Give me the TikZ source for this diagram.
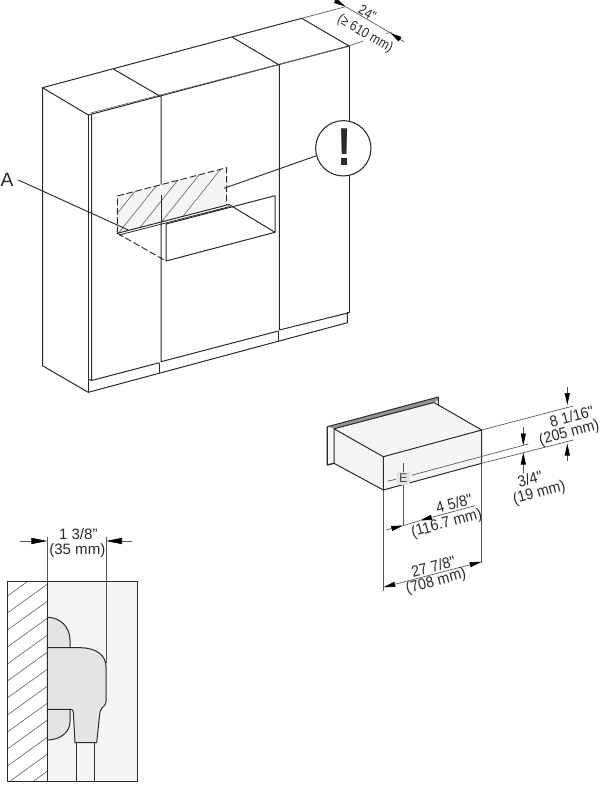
\documentclass[tikz,border=0pt]{standalone}
\usepackage{fontspec}
\setmainfont{Liberation Sans}
\newfontfamily\midf[FakeStretch=0.92]{Liberation Sans}
\newfontfamily\narf[FakeStretch=0.85]{Liberation Sans}
\usetikzlibrary{arrows.meta}
\definecolor{lg}{HTML}{F5F5F5}
\definecolor{mg}{HTML}{E4E4E4}
\definecolor{ln}{HTML}{2A2A2A}
\tikzset{
 px/.style={x=0.75pt,y=-0.75pt},
 edge/.style={draw=ln,line width=0.75pt,line join=round},
 thinl/.style={draw=ln!70,line width=0.5pt},
 hatch/.style={draw=ln!70,line width=0.5pt},
 dashl/.style={draw=ln,line width=0.7pt,dash pattern=on 5pt off 2pt},
 dim/.style={draw=ln!80,line width=0.5pt},
 tipa/.tip={Triangle[length=9pt,width=3.8pt,color=black,fill=black]},
 tipb/.tip={Triangle[length=12pt,width=4.6pt,color=black,fill=black]},
 dimarrow/.style={dim,-tipa},
 bigarrow/.style={dim,-tipb},
 lbl/.style={font=\fontsize{11.3}{12}\selectfont,inner sep=0pt,text=ln},
 mlbl/.style={font=\midf\fontsize{11.7}{12}\selectfont,inner sep=0pt,text=ln,rotate=15},
 tlbl/.style={font=\narf\fontsize{10.6}{12}\selectfont,inner sep=0pt,text=ln,rotate=-30},
}
\begin{document}
\begin{tikzpicture}[px]
\useasboundingbox (0,0) rectangle (600,785);
% cabinet coordinates
\coordinate (bl) at (42.5,87.7); \coordinate (fl) at (88.3,115); \coordinate (br) at (301.7,18.3); \coordinate (fr) at (349,46);
\coordinate (blb) at (42.5,365.7); \coordinate (flb) at (88.3,392.3); \coordinate (frb) at (347.3,322.7); \coordinate (frp) at (347.3,312.7);
\draw[edge] (fl)--(bl)--(br)--(fr)--(fl);
\draw[edge] (bl)--(blb)--(flb)--(frb)--(frp);
\draw[edge] (fl)--(flb);
\draw[edge] (fr)--(349,312.7)--(347.3,312.7);
\draw[thinl] (90.5,113)--(347,46.8);
\draw[edge] (91.7,115)--(91.7,380.5)--(159.3,362.7);
\draw[edge] (88.3,379)--(91.7,380.5);
\draw[edge] (113.3,69)--(161,96.7)--(161,361.7)--(278.3,331);
\draw[edge] (232.3,37.3)--(279.3,65)--(279.3,330)--(349,312.7);
\draw[edge] (159.3,363.3)--(159.3,372.7);
\draw[edge] (278.3,331)--(278.3,340.7);
% hatched panel
\coordinate (ha) at (117.3,196); \coordinate (hb) at (226.7,167.7); \coordinate (hc) at (226.7,205); \coordinate (hd) at (117.3,233.3);
\fill[lg] (ha)--(hb)--(hc)--(hd)--cycle;
\begin{scope}
\clip (ha)--(hb)--(hc)--(hd)--cycle;
\foreach \i in {0,...,8} \draw[hatch] (164-\i*17,240)--++(64,-80);
\end{scope}
\draw[edge] (161,195)--(161,222);
\draw[dashl] (hd)--(ha)--(hb)--(hc);
% opening
\coordinate (oa) at (166,224); \coordinate (ob) at (166,261); \coordinate (oc) at (275,232.3); \coordinate (od) at (275,195.7);
\draw[edge] (oa)--(od)--(oc)--(ob)--cycle;
\draw[edge] (hd)--(229,204.5)--(oc);
\draw[draw=ln,line width=0.6pt] (119,235)--(230,206.5);
\draw[dashl] (hd)--(ob);
% callout
\node[draw=ln,line width=0.8pt,fill=white,circle,minimum size=41.5pt,inner sep=0pt] (warn) at (343.3,148.3) {};
\node[inner sep=0pt,xscale=.8,font=\fontsize{40}{40}\selectfont\bfseries,text=ln] (bang) at (344.7,147.5) {!};
\coordinate (warnend) at (224,188.3);
\draw[edge,line width=0.7pt] (warn)++(-27,7.5) -- (warnend);
\node[lbl,font=\fontsize{14.5}{16}\selectfont] (labA) at (7,180) {A};
\coordinate (Aend) at (128.3,230);
\draw[edge,line width=0.7pt] (18.3,180)--(Aend);
% top dim
\coordinate (ta) at (345.7,6.7); \coordinate (tb) at (390,32.7);
\draw[dim] (br)--(ta);
\draw[dim] (fr)--(363,41);
\draw[dim] (386,33.5)--(392,32);
\draw[dimarrow] (330,-2.5)--(ta);
\draw[dimarrow] (404,41.8)--(tb);
\draw[dim] (ta)--(tb);
\node[tlbl] (t1) at (367.5,13) {24"};
\node[tlbl] (t2) at (365,34) {(≥ 610 mm)};
% drawer
\coordinate (da) at (334,428.8); \coordinate (db) at (434,402.5); \coordinate (dc) at (481.7,430); \coordinate (dd) at (383.3,456.7);
\coordinate (de) at (481.7,463.3); \coordinate (df) at (383.3,490); \coordinate (dg) at (334,463.3);
\fill[lg] (da)--(db)--(dc)--(dd)--cycle;
\fill[lg] (da)--(dd)--(df)--(dg)--cycle;
\fill[lg] (dd)--(dc)--(de)--(df)--cycle;
\fill[ln!50] (327.3,426.7)--(438.3,397)--(438.3,400)--(434,402.5)--(da)--cycle;
\fill[lg] (329,427.2)--(da)--(dg)--(329,464.5)--cycle;
\draw[edge,line width=1pt] (327.3,426.7)--(327.3,465)--(dg);
\draw[edge] (327.3,426.7)--(438.3,397)--(438.3,405);
\draw[edge] (da)--(db)--(dc)--(dd)--cycle;
\draw[edge] (dd)--(df)--(de)--(dc);
\draw[edge] (da)--(dg)--(df);
% E
\fill[mg] (396.8,471.5) rectangle (410,485);
\node[inner sep=0pt,font=\fontsize{9.5}{10}\selectfont,text=ln!85] (E) at (403.3,478.3) {E};
\draw[dim] (403.3,463.3)--(403.3,471.5);
\draw[dim] (387.7,481.2)--(396,479.2);
\draw[dim] (411.7,475.2)--(528.3,444);
\coordinate (ev) at (403.3,525.5);
\draw[dim] (403.3,485)--(ev);
% right dims
\coordinate (ru) at (567.3,405); \coordinate (rl) at (567.3,443.5);
\draw[dim] (dc)--(573.3,406);
\draw[dim] (de)--(573.3,440);
\draw[dimarrow] (567.3,387)--(ru);
\draw[dimarrow] (567.3,460.5)--(rl);
\draw[dimarrow] (523.3,427)--(523.3,445.5);
\draw[dimarrow] (523.3,473)--(523.3,452.5);
\node[mlbl] (s1) at (571.7,416.7) {8 1/16"};
\node[mlbl] (s2) at (569.3,433.3) {(205 mm)};
\node[mlbl] (s3) at (530,479.3) {3/4"};
\node[mlbl] (s4) at (539.3,493.3) {(19 mm)};
% bottom dims
\draw[dim] (df)--(383.3,590.7);
\draw[dim] (de)--(481.7,563);
\coordinate (wa) at (383.3,587.3); \coordinate (wb) at (481.7,561.7);
\draw[dim,tipa-tipa] (wa)--(wb);
\draw[dimarrow] (386,530)--(ev);
\draw[dimarrow] (475,505.7)--(420,520.5);
\draw[dim] (ev)--(420,520.5);
\node[mlbl] (s5) at (454,503.3) {4 5/8"};
\node[mlbl] (s6) at (446.7,523.8) {(116.7 mm)};
\node[mlbl] (s7) at (433.3,566.7) {27 7/8"};
\node[mlbl] (s8) at (436,581.7) {(708 mm)};
% detail
\coordinate (ra) at (7.3,581); \coordinate (rb) at (137.3,781.7); \coordinate (wa2) at (47.3,581); \coordinate (wb2) at (47.3,781.7);
\fill[lg] (wa2) rectangle (rb);
\begin{scope}
\clip (ra) rectangle (wb2);
\foreach \i in {0,...,14} \draw[hatch] (0,584.3+\i*17)--++(60,-43.2);
\end{scope}
\draw[edge,fill=mg] (47.3,617.3) .. controls (60,617.3) and (70,627) .. (70,640) -- (70,647.7) -- (47.3,647.7)--cycle;
\draw[edge,fill=mg] (47.3,709.3) -- (70,709.3) -- (70,722) .. controls (70,732) and (60,740) .. (47.3,740) --cycle;
\draw[edge,fill=mg] (47.3,647.7)--(80,647.7) .. controls (96,647.7) and (106,655) .. (106,667) --(106,701) .. controls (106,705) and (104,706) .. (102,708) .. controls (100,710) and (100,712) .. (99.5,716)--(96.7,742.7)--(75,742.7)--(73.3,712) .. controls (73,710) and (72,709.3) .. (70,709.3) --(47.3,709.3)--cycle;
\draw[edge] (76.7,742.7)--(76.7,781.7);
\draw[edge] (94.3,742.7)--(94.3,781.7);
\draw[edge] (ra) rectangle (rb);
\draw[edge] (wa2)--(wb2);
\coordinate (xa) at (47.3,541); \coordinate (xb) at (106,541);
\draw[bigarrow] (20,541)--(xa);
\draw[bigarrow] (131.7,541)--(xb);
\draw[dim] (47.3,537)--(wa2);
\draw[dim] (106,537)--(106,663);
\node[lbl] (u1) at (78.3,534) {1 3/8"};
\node[lbl] (u2) at (77.3,551) {(35 mm)};
\end{tikzpicture}
\end{document}
